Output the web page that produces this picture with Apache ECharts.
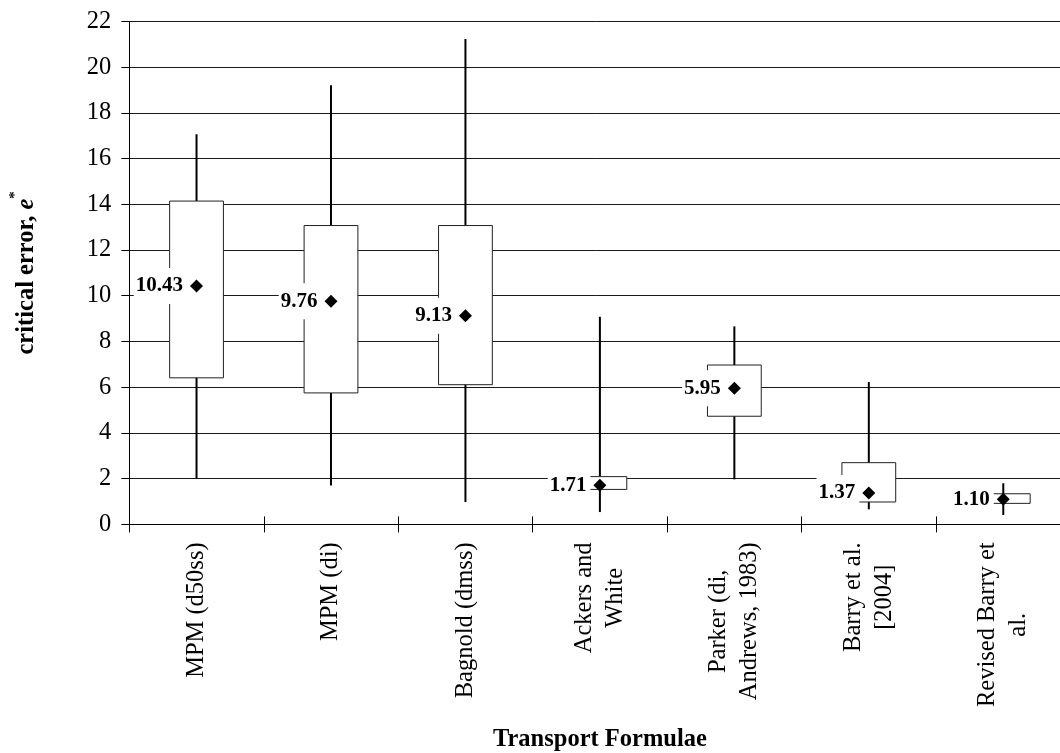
<!DOCTYPE html>
<html>
<head>
<meta charset="utf-8">
<script src="https://cdn.jsdelivr.net/npm/echarts@6/dist/echarts.min.js"></script>
<style>
  html, body { margin: 0; padding: 0; background: #fff; }
  #chart { width: 1060px; height: 753px; }
</style>
</head>
<body>
<div id="chart"></div>
<script>
// Critical error e* for each sediment transport formula:
// whiskers span min..max, boxes span Q1..Q3, diamonds mark the mean.
const categories = [
  'MPM (d50ss)',
  'MPM (di)',
  'Bagnold (dmss)',
  'Ackers and\nWhite',
  'Parker (di,\nAndrews, 1983)',
  'Barry et al.\n[2004]',
  'Revised Barry et\nal.'
];
const minValues  = [2.00, 1.70, 0.98, 0.54, 1.97, 0.66, 0.41];
const q1Values   = [6.41, 5.75, 6.11, 1.53, 4.73, 0.98, 0.92];
const q3Values   = [14.14, 13.07, 13.07, 2.09, 6.97, 2.70, 1.34];
const maxValues  = [17.06, 19.20, 21.23, 9.08, 8.66, 6.23, 1.80];
const meanValues = [10.43, 9.76, 9.13, 1.71, 5.95, 1.37, 1.10];

const yMin = 0, yMax = 22, yStep = 2;

const FONT = "'Liberation Serif', 'Times New Roman', serif";
const TEXT_SIZE = 24.5;

const boxData = categories.map((c, i) => [i, minValues[i], q1Values[i], q3Values[i], maxValues[i]]);
const meanData = categories.map((c, i) => [i, meanValues[i]]);

function renderBox(params, api) {
  const idx = api.value(0);
  const x = api.coord([idx, 0])[0];
  const yLo = api.coord([idx, api.value(1)])[1];
  const yQ1 = api.coord([idx, api.value(2)])[1];
  const yQ3 = api.coord([idx, api.value(3)])[1];
  const yHi = api.coord([idx, api.value(4)])[1];
  const w = api.size([1, 0])[0] * 0.4;
  return {
    type: 'group',
    children: [
      { type: 'line', shape: { x1: x, y1: yHi, x2: x, y2: yLo },
        style: { stroke: '#000', lineWidth: 2 } },
      { type: 'rect', shape: { x: x - w / 2, y: yQ3, width: w, height: yQ1 - yQ3 },
        style: { fill: '#fff', stroke: '#222', lineWidth: 1 } }
    ]
  };
}

const chart = echarts.init(document.getElementById('chart'), null, { renderer: 'canvas' });
chart.setOption({
  animation: false,
  backgroundColor: '#fff',
  textStyle: { fontFamily: FONT },
  // the plot runs slightly past the right edge of the canvas
  grid: {
    left: 129.3, width: 941.2, top: 21.35, height: 503.05,
    containLabel: false,
    outerBoundsMode: 'none'
  },
  xAxis: [
    {
      type: 'category',
      data: categories,
      position: 'bottom',
      name: 'Transport Formulae',
      nameLocation: 'middle',
      nameGap: 203,
      nameTextStyle: { fontFamily: FONT, fontSize: TEXT_SIZE, fontWeight: 'bold', color: '#000' },
      axisLine: { lineStyle: { color: '#000', width: 1 } },
      axisTick: { show: true, length: 8, lineStyle: { color: '#000' } },
      splitLine: { show: false },
      axisLabel: {
        rotate: 90,
        margin: 18,
        interval: 0,
        color: '#000',
        fontFamily: FONT,
        fontSize: TEXT_SIZE,
        formatter: v => v.split('\n').map(l => '{c|' + l + '}').join('\n'),
        rich: { c: { align: 'center', fontFamily: FONT, fontSize: TEXT_SIZE, lineHeight: 31, color: '#000' } }
      }
    },
    {
      type: 'category',
      data: categories,
      position: 'bottom',
      axisLine: { show: false },
      axisTick: { show: true, inside: true, length: 8, lineStyle: { color: '#000' } },
      axisLabel: { show: false },
      splitLine: { show: false }
    }
  ],
  yAxis: {
    type: 'value',
    min: yMin,
    max: yMax,
    interval: yStep,
    name: '{t|critical error, }{e|e}{s|*}',
    nameLocation: 'middle',
    nameGap: 90,
    nameTextStyle: {
      rich: {
        t: { fontFamily: FONT, fontSize: TEXT_SIZE, fontWeight: 'bold', color: '#000', lineHeight: 32, verticalAlign: 'bottom' },
        e: { fontFamily: FONT, fontSize: TEXT_SIZE, fontWeight: 'bold', fontStyle: 'italic', color: '#000', lineHeight: 32, verticalAlign: 'bottom' },
        s: { fontFamily: FONT, fontSize: 15, fontWeight: 'bold', color: '#000', lineHeight: 32, verticalAlign: 'top' }
      }
    },
    axisLine: { show: true, lineStyle: { color: '#000', width: 1 } },
    axisTick: { show: true, length: 8, lineStyle: { color: '#000' } },
    axisLabel: { margin: 18, color: '#000', fontFamily: FONT, fontSize: TEXT_SIZE },
    splitLine: { show: true, lineStyle: { color: '#1a1a1a', width: 1 } }
  },
  series: [
    {
      type: 'custom',
      renderItem: renderBox,
      data: boxData,
      encode: { x: 0, y: [1, 2, 3, 4] },
      z: 2
    },
    {
      type: 'scatter',
      data: meanData,
      symbol: 'diamond',
      symbolSize: 13,
      itemStyle: { color: '#000', opacity: 1 },
      z: 3,
      label: {
        show: true,
        position: 'left',
        distance: 3,
        formatter: p => p.value[1].toFixed(2),
        fontFamily: FONT,
        fontSize: 21,
        fontWeight: 'bold',
        color: '#000',
        backgroundColor: '#fff',
        padding: [6, 4, 6, 2],
        lineHeight: 24
      }
    }
  ]
});
</script>
</body>
</html>
